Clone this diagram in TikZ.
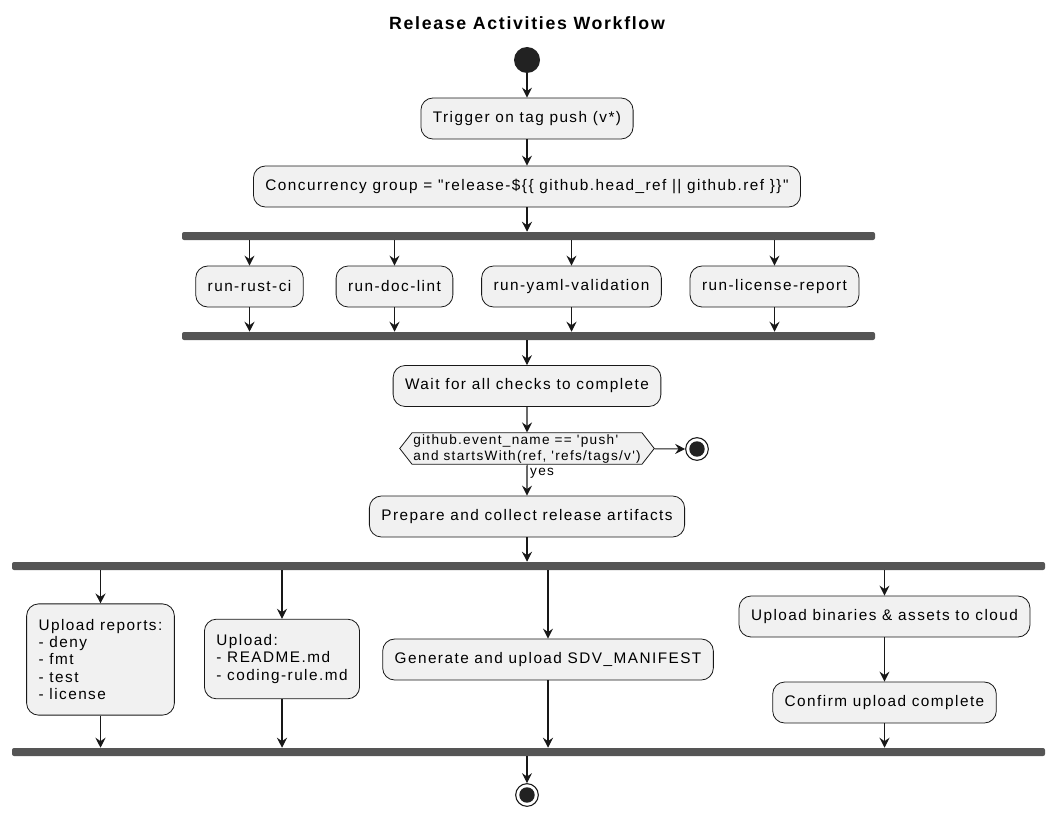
\documentclass[tikz,border=0pt]{standalone}
\usepackage{fontspec}
\setmainfont{Liberation Sans}[Ligatures=TeXOff,LetterSpace=9.5]
\usetikzlibrary{arrows.meta,shapes.symbols}
\definecolor{boxfill}{HTML}{F1F1F1}
\definecolor{boxline}{HTML}{181818}
\definecolor{barfill}{HTML}{555555}
\definecolor{dotfill}{HTML}{222222}
\tikzset{
  act/.style={draw=boxline,fill=boxfill,line width=0.6pt,rounded corners=9pt,
    minimum height=30.75pt,inner xsep=9pt,inner ysep=8.5pt,align=left,
    font=\fontsize{11.5}{13}\selectfont},
  actlist/.style={act,inner ysep=11.5pt},
  cond/.style={draw=boxline,fill=boxfill,line width=0.6pt,signal,
    signal to=west and east,signal pointer angle=104,minimum height=23.25pt,
    inner xsep=1pt,inner ysep=1pt,align=left,font=\fontsize{10.2}{12}\selectfont},
  bar/.style={fill=barfill,rounded corners=1.5pt,minimum height=6pt,inner sep=0pt},
  startdot/.style={circle,fill=dotfill,minimum size=19.5pt,inner sep=0pt},
  stopdot/.style={circle,draw=boxline,line width=0.8pt,fill=white,minimum size=17pt,
    inner sep=0pt,path picture={\fill[dotfill] (path picture bounding box.center) circle (5.8pt);}},
  flow/.style={draw=boxline,line width=0.8pt,-{Stealth[length=7.5pt,width=7.5pt,inset=2.6pt]}},
}
\begin{document}
\begin{tikzpicture}[x=0.75pt,y=-0.75pt]
        \useasboundingbox (0,0) rectangle (1055,824);
        \node[font=\bfseries\fontsize{13.3}{15}\selectfont] (title) at (527,23) {Release Activities Workflow};
        \node[startdot] (start) at (527,60) {};
        \node[act] (trigger) at (527,118.5) {Trigger on tag push (v*)};
        \node[act] (conc) at (527,186.5) {Concurrency group = "release-\$\{\{ github.head\_ref || github.ref \}\}"};
        \node[bar,minimum width=519.75pt] (fork1) at (528.5,236) {};
        \node[bar,minimum width=519.75pt] (join1) at (528.5,336) {};
        \draw[flow] (start) -- (trigger);
        \draw[flow] (trigger) -- (conc);
        \draw[flow] (conc) -- (conc |- fork1.north);
        \foreach \x/\n/\l in {249.5/rust/run-rust-ci,394.5/doc/run-doc-lint,571.5/yaml/run-yaml-validation,774.5/lic/run-license-report}{
            \node[act] (\n) at (\x,286.5) {\l};
            \draw[flow] (fork1.south -| \n) -- (\n);
            \draw[flow] (\n) -- (\n |- join1.north);
        }
        \node[act] (wait) at (527,386) {Wait for all checks to complete};
        \node[cond] (check) at (527,448.5) {github.event\_name == 'push'\\and startsWith(ref, 'refs/tags/v')};
        \node[stopdot] (stop) at (697,449) {};
        \node[act] (prepare) at (527,516.5) {Prepare and collect release artifacts};
        \draw[flow] (join1.south -| wait) -- (wait);
        \draw[flow] (wait) -- (check);
        \draw[flow] (check) -- (stop);
        \draw[flow] (check) -- node[right,pos=0.28,inner sep=2pt,font=\fontsize{10.2}{12}\selectfont]{yes} (prepare);
        \node[bar,minimum width=774.75pt] (fork2) at (528.5,566) {};
        \node[bar,minimum width=774.75pt] (join2) at (528.5,752) {};
        \draw[flow] (prepare) -- (prepare |- fork2.north);
        \foreach \x/\y/\n/\l in {100.5/659.5/reports/{Upload reports:\\- deny\\- fmt\\- test\\- license},282/659/docs/{Upload:\\- README.md\\- coding-rule.md}}{
            \node[actlist] (\n) at (\x,\y) {\l};
            \draw[flow] (fork2.south -| \n) -- (\n);
        }
        \foreach \x/\y/\n/\l in {548/659.5/manifest/{Generate and upload SDV\_MANIFEST},884.5/616.5/cloud/{Upload binaries \& assets to cloud}}{
            \node[act] (\n) at (\x,\y) {\l};
            \draw[flow] (fork2.south -| \n) -- (\n);
        }
        \node[act] (confirm) at (884.5,702.5) {Confirm upload complete};
        \draw[flow] (cloud) -- (confirm);
        \foreach \n in {reports,docs,manifest,confirm}{
            \draw[flow] (\n) -- (\n |- join2.north);
        }
        \node[stopdot] (end) at (527,795) {};
        \draw[flow] (join2.south -| end) -- (end);
\end{tikzpicture}
\end{document}
